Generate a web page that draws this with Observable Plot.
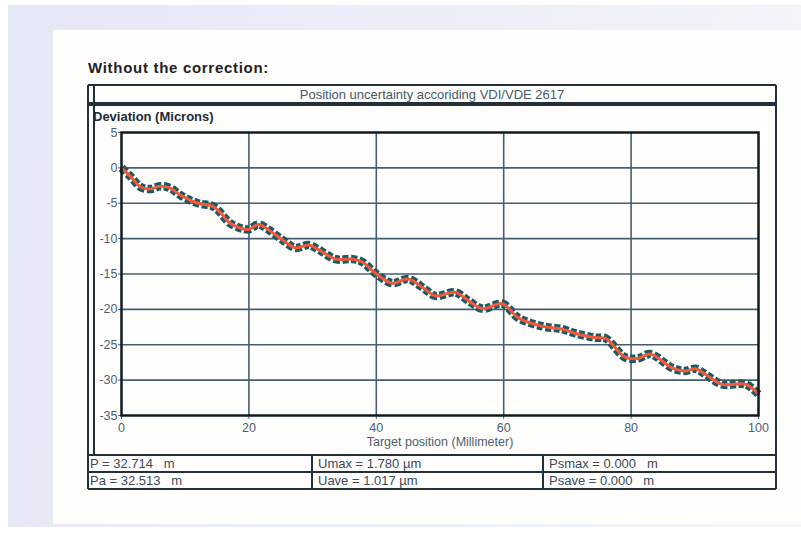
<!DOCTYPE html>
<html>
<head>
<meta charset="utf-8">
<script src="https://cdn.jsdelivr.net/npm/d3@7"></script>
<script src="https://cdn.jsdelivr.net/npm/@observablehq/plot@0.6"></script>
<style>
  html, body { margin:0; padding:0; background:#ffffff; width:801px; height:542px; overflow:hidden; font-family:"Liberation Sans", Arial, sans-serif; }
  .abs { position:absolute; }
  #bg { left:8px; top:5px; width:793px; height:522px; background:linear-gradient(100deg, #e5e8f5 0%, #edeff8 55%, #f5f6fb 100%); }
  #panel { left:53px; top:30px; width:748px; height:494px; background:#fffefd; }
  #title { left:88px; top:59px; font-size:15px; font-weight:bold; color:#1e2226; font-family:"Liberation Sans", Arial, sans-serif; letter-spacing:0.7px; }
  .line { position:absolute; background:#22303a; }
  .txt { position:absolute; font-size:12px; color:#3f4f5e; white-space:pre; }
</style>
</head>
<body>
<div id="bg" class="abs"></div>
<div id="panel" class="abs"></div>
<div id="title" class="abs">Without the correction:</div>
<div id="frame"></div>
<div id="chart" class="abs" style="left:88px; top:104px;"></div>
<script>
// ---- data ----
const positions = [0, 1.5, 3, 4.5, 6, 7.5, 9.5, 12, 14.3, 15.5, 17, 19, 20, 21.5, 23, 25.3, 27.3, 29.4, 31, 33.6, 36.3, 37.8, 40, 42.5, 45, 47.7, 49.3, 52.4, 54.5, 56.7, 59.8, 62.3, 66.1, 69.2, 71.3, 74.4, 76, 79.1, 81.2, 83, 86.5, 88.5, 90.1, 91.7, 94.3, 98, 100];
const deviations = [0, -1.3, -2.7, -3.0, -2.6, -2.8, -4.0, -5.0, -5.4, -6.3, -7.8, -8.6, -8.7, -8.0, -8.7, -10.2, -11.3, -10.9, -11.6, -12.9, -12.9, -13.3, -15.0, -16.3, -15.7, -17.2, -18.1, -17.6, -18.8, -19.9, -19.2, -21.2, -22.4, -22.8, -23.4, -24.0, -24.1, -26.8, -26.9, -26.3, -28.3, -28.7, -28.4, -29.2, -30.6, -30.6, -32.0];
const xTicks = [0, 20, 40, 60, 80, 100];
const yTicks = [5, 0, -5, -10, -15, -20, -25, -30, -35];
const xGrid = [20, 40, 60, 80];
const yGrid = [0, -5, -10, -15, -20, -25, -30];
const chartTitle = "Position uncertainty accoriding VDI/VDE 2617";
const yLabel = "Deviation (Microns)";
const xLabel = "Target position (Millimeter)";
const tableRows = [
  ["P = 32.714   m", "Umax = 1.780 µm", "Psmax = 0.000   m"],
  ["Pa = 32.513   m", "Uave = 1.017 µm", "Psave = 0.000   m"]
];

const data = positions.map((p, i) => ({x: p, y: deviations[i]}));

// ---- frame / table (HTML) ----
const F = document.getElementById("frame");
function hline(x1, x2, y, w) { const d = document.createElement("div"); d.className = "line"; d.style.left = x1 + "px"; d.style.top = (y - w/2) + "px"; d.style.width = (x2 - x1) + "px"; d.style.height = w + "px"; F.appendChild(d); }
function vline(x, y1, y2, w) { const d = document.createElement("div"); d.className = "line"; d.style.left = (x - w/2) + "px"; d.style.top = y1 + "px"; d.style.width = w + "px"; d.style.height = (y2 - y1) + "px"; F.appendChild(d); }
function text(s, x, y, opts = {}) { const d = document.createElement("div"); d.className = "txt"; d.textContent = s; d.style.left = x + "px"; d.style.top = y + "px"; Object.assign(d.style, opts); F.appendChild(d); return d; }

const L = 88, R = 776, T = 85, HB = 104, TB = 455, RM = 472, B = 489;
hline(L, R, T, 1.5);
hline(L, R, HB - 1, 1.2);
hline(L, R, HB + 1, 1.2);
hline(L, R, TB, 1.5);
hline(L, R, RM, 2);
hline(L, R, B, 1.5);
vline(L, T, B, 1.5);
vline(94, T, TB, 2.2);
vline(R, T, B, 1.5);
vline(312, TB, B, 1.5);
vline(543, TB, B, 1.5);

text(chartTitle, L, 87, {width: (R - L) + "px", textAlign: "center", fontSize: "13px", color: "#46596a"});
text(yLabel, 93, 109, {fontSize: "13px", fontWeight: "bold", color: "#1e2a33"});
const colX = [90, 318, 549];
tableRows.forEach((row, r) => row.forEach((s, c) => text(s, colX[c], [456, 473][r], {fontSize: "13px", color: "#3a4a5a"})));

// ---- chart ----
const chart = Plot.plot({
  width: 688,
  height: 351,
  marginLeft: 33,
  marginRight: 18,
  marginTop: 28,
  marginBottom: 40,
  style: {background: "transparent", fontFamily: "Liberation Sans, Arial, sans-serif", fontSize: "12.5px", color: "#4d6070"},
  x: {domain: [0, 100]},
  y: {domain: [-35, 5]},
  marks: [
    Plot.ruleY(yGrid, {stroke: "#445f70", strokeWidth: 1.6}),
    Plot.ruleX(xGrid, {stroke: "#445f70", strokeWidth: 1.6}),
    Plot.axisX({ticks: xTicks, tickSize: 4, tickPadding: 4, stroke: "#4a6676", tickFormat: d => String(d), label: xLabel, labelAnchor: "center", labelArrow: "none", labelOffset: 30}),
    Plot.axisY({ticks: yTicks, tickSize: 3, tickPadding: 1, stroke: "#4a6676", tickFormat: d => String(d), label: null}),
    Plot.line(data, {x: "x", y: "y", curve: "catmull-rom", stroke: "#1a5a64", strokeWidth: 8.5, strokeDasharray: "6,2.5", strokeLinecap: "butt"}),
    Plot.line(data, {x: "x", y: "y", curve: "catmull-rom", stroke: "#f2583a", strokeWidth: 3}),
    Plot.frame({stroke: "#0f1b22", strokeWidth: 2.5})
  ]
});
document.getElementById("chart").appendChild(chart);
</script>
</body>
</html>
